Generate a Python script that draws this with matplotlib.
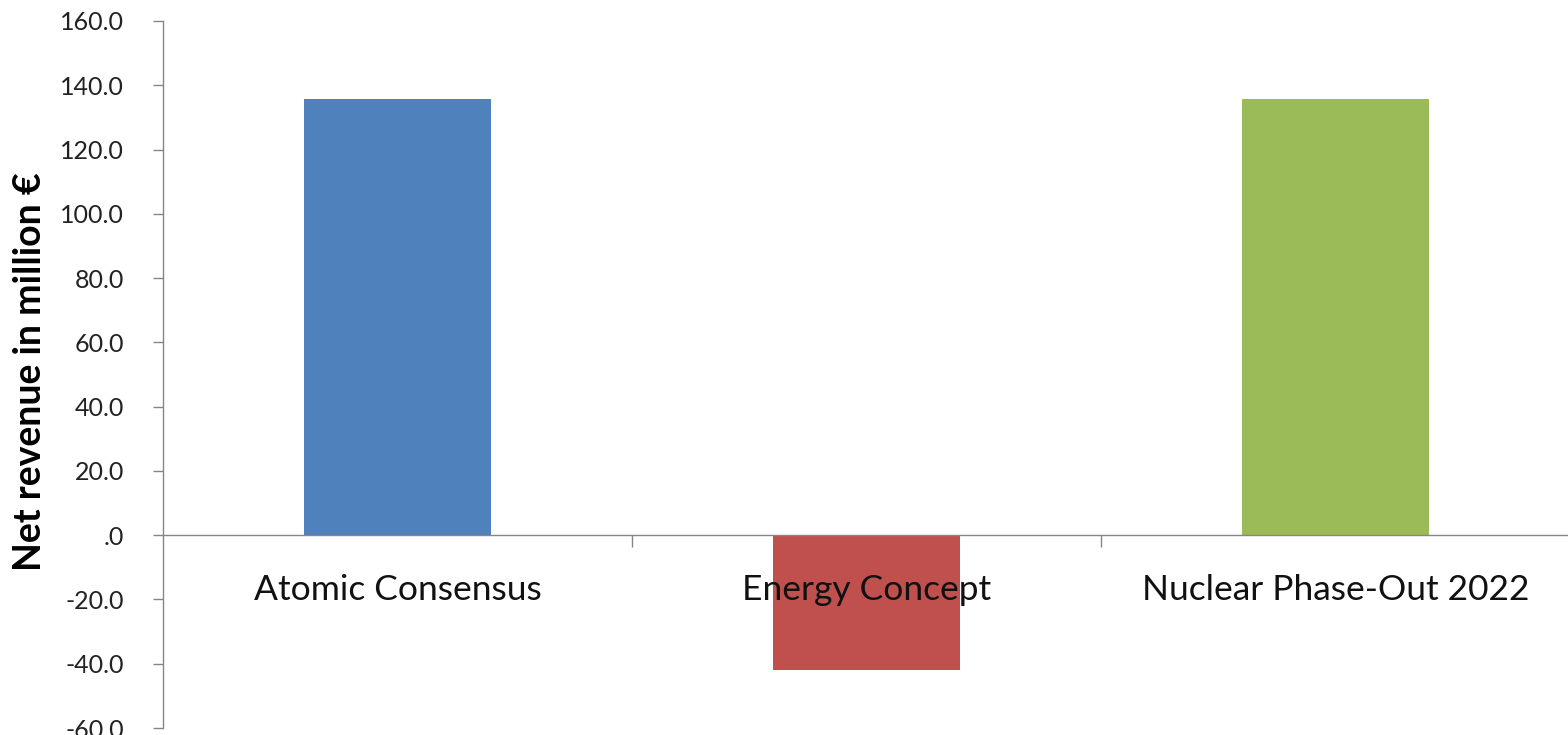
import matplotlib
matplotlib.use("Agg")
import matplotlib.pyplot as plt
from matplotlib.ticker import FixedLocator, FuncFormatter

# Scenario results
scenarios = ["Atomic Consensus", "Energy Concept", "Nuclear Phase-Out 2022"]
net_revenue = [135.7, -41.8, 135.7]
bar_colors = ["#4F81BD", "#C0504D", "#9BBB59"]
y_ticks = [-60, -40, -20, 0, 20, 40, 60, 80, 100, 120, 140, 160]

plt.rcParams["font.family"] = ["Lato", "DejaVu Sans"]

W, H = 1568, 735
fig = plt.figure(figsize=(W / 100, H / 100), dpi=100)
ax = fig.add_axes([163 / W, (H - 728) / H, (1570 - 163) / W, (728 - 21) / H])

x = list(range(len(scenarios)))
ax.bar(x, net_revenue, width=0.4, color=bar_colors, zorder=1)

ax.set_xlim(-0.5, len(scenarios) - 0.5)
ax.set_ylim(-60, 160)

axis_gray = "#868686"
for side in ("top", "right"):
    ax.spines[side].set_visible(False)
ax.spines["left"].set_color(axis_gray)
ax.spines["bottom"].set_color(axis_gray)
ax.spines["bottom"].set_position(("data", 0))
ax.spines["left"].set_linewidth(1.0)
ax.spines["bottom"].set_linewidth(1.0)

# y axis
ax.yaxis.set_major_locator(FixedLocator(y_ticks))


def fmt(v, pos):
    s = f"{v:.1f}"
    if s in ("0.0", "-0.0"):
        return ".0"
    return s


ax.yaxis.set_major_formatter(FuncFormatter(fmt))
ax.tick_params(axis="y", which="major", direction="out", length=7, width=1,
               color=axis_gray, pad=21, labelsize=18, labelcolor="#222222")

# x axis: ticks at category boundaries, labels at category centres
ax.xaxis.set_major_locator(FixedLocator([0.5, 1.5]))
ax.xaxis.set_major_formatter(FuncFormatter(lambda v, p: ""))
ax.xaxis.set_minor_locator(FixedLocator(x))
ax.xaxis.set_minor_formatter(FuncFormatter(lambda v, p: scenarios[int(round(v))]))
ax.tick_params(axis="x", which="major", direction="out", length=8.5, width=1,
               color=axis_gray)
ax.tick_params(axis="x", which="minor", length=0, pad=28, labelsize=25.5,
               labelcolor="#111111")

fig.text(30 / W, 1 - 372 / H, "Net revenue in million €", rotation=90,
         ha="center", va="center", fontsize=27, fontweight="bold")

fig.savefig("out.png", dpi=100, facecolor="white")
